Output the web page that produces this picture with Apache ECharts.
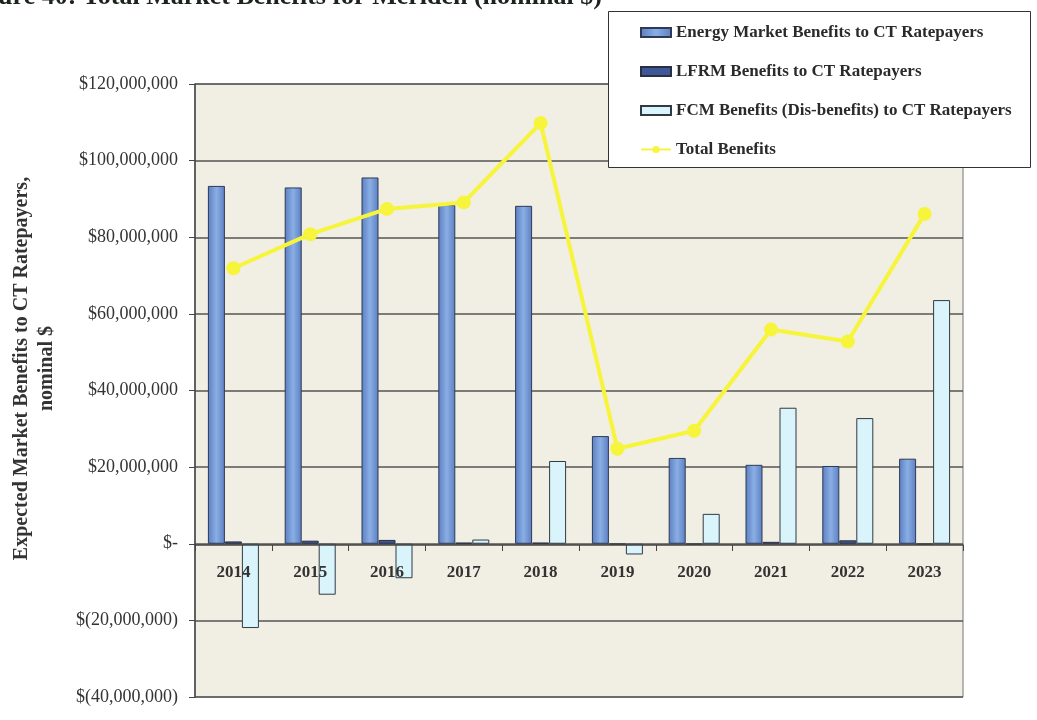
<!DOCTYPE html>
<html>
<head>
<meta charset="utf-8">
<script src="https://cdn.jsdelivr.net/npm/echarts@6/dist/echarts.min.js"></script>
<style>html,body{margin:0;padding:0;background:#fff;}#c{width:1037px;height:720px;}</style>
</head>
<body>
<div id="c"></div>
<script>
var years = ['2014','2015','2016','2017','2018','2019','2020','2021','2022','2023'];
var energyBenefits = [93.4, 93.0, 95.6, 88.4, 88.2, 28.1, 22.4, 20.6, 20.3, 22.2];
var lfrmBenefits = [0.6, 0.8, 1.0, 0.3, 0.3, -0.2, -0.2, 0.5, 0.9, -0.2];
var fcmBenefits = [-22.0, -13.3, -9.0, 1.1, 21.6, -2.8, 7.8, 35.5, 32.8, 63.6];
var totalBenefits = [71.9, 80.8, 87.4, 89.1, 109.8, 24.8, 29.5, 55.9, 52.8, 86.1];
var seriesNames = ['Energy Market Benefits to CT Ratepayers','LFRM Benefits to CT Ratepayers','FCM Benefits (Dis-benefits) to CT Ratepayers','Total Benefits'];
var titleText = 'Figure 40: Total Market Benefits for Meriden (nominal $)';
var yAxisTitle = 'Expected Market Benefits to CT Ratepayers,\nnominal $';

function toDollars(arr){ return arr.map(function(v){ return Math.round(v*1e6); }); }

function fmtMoney(v){
  if (v === 0) return '$-';
  var s = Math.abs(v).toString().replace(/\B(?=(\d{3})+(?!\d))/g, ',');
  return v < 0 ? '$(' + s + ')' : '$' + s;
}

var serif = '"Liberation Serif","DejaVu Serif",serif';
var chart = echarts.init(document.getElementById('c'));
chart.setOption({
  animation: false,
  backgroundColor: '#ffffff',
  graphic: [
    { type: 'text', left: -38, top: -16, z: 10,
      style: { text: titleText, font: 'bold 26px ' + serif, fill: '#1c231c' } },
    { type: 'rect', left: 608, top: 11, z: 5,
      shape: { width: 422, height: 156 },
      style: { fill: '#ffffff', stroke: '#333333', lineWidth: 1 } }
  ],
  legend: {
    orient: 'vertical', left: 635, top: 19, z: 20,
    itemGap: 22, itemWidth: 30, itemHeight: 9,
    textStyle: { fontFamily: serif, fontWeight: 'bold', fontSize: 17, color: '#2a2a2a' },
    data: [
      { name: seriesNames[0], icon: 'rect' },
      { name: seriesNames[1], icon: 'rect' },
      { name: seriesNames[2], icon: 'rect' },
      { name: seriesNames[3] }
    ]
  },
  grid: { left: 195, right: 74, top: 84, bottom: 23, show: true,
          containLabel: false, outerBoundsMode: 'none',
          backgroundColor: '#f1eee3', borderColor: '#777', borderWidth: 1 },
  xAxis: {
    type: 'category', data: years, position: 'bottom', offset: -152, z: 12,
    axisLine: { onZero: false, lineStyle: { color: '#444', width: 1.5 } },
    axisTick: { show: true, inside: false, length: 6, lineStyle: { color: '#444' } },
    axisLabel: { fontFamily: serif, fontWeight: 'bold', fontSize: 17, color: '#333', margin: 19 }
  },
  yAxis: {
    type: 'value', min: -40000000, max: 120000000, interval: 20000000,
    name: yAxisTitle, nameLocation: 'middle', nameGap: 136, nameRotate: 90,
    nameTextStyle: { fontFamily: serif, fontWeight: 'bold', fontSize: 20, color: '#333', lineHeight: 25, padding: [0, 0, 0, 44] },
    axisLine: { show: true, lineStyle: { color: '#444', width: 1.5 } },
    axisTick: { show: true, length: 6, lineStyle: { color: '#444' } },
    axisLabel: { fontFamily: serif, fontSize: 18, color: '#333', margin: 17, formatter: fmtMoney },
    splitLine: { show: true, lineStyle: { color: '#555', width: 1.5 } }
  },
  series: [
    { name: seriesNames[0], type: 'bar', data: toDollars(energyBenefits),
      barWidth: 17, barGap: '0%',
      itemStyle: {
        color: new echarts.graphic.LinearGradient(0,0,1,0,[
          {offset:0,color:'#5b7fc2'},{offset:0.5,color:'#8aaee4'},{offset:1,color:'#5b7fc2'}]),
        borderColor: '#2f3a55', borderWidth: 1 } },
    { name: seriesNames[1], type: 'bar', data: toDollars(lfrmBenefits),
      barWidth: 17, barGap: '0%',
      itemStyle: { color: '#3e5796', borderColor: '#2a2f45', borderWidth: 1 } },
    { name: seriesNames[2], type: 'bar', data: toDollars(fcmBenefits),
      barWidth: 17, barGap: '0%',
      itemStyle: { color: '#d9f4fb', borderColor: '#2f3a45', borderWidth: 1 } },
    { name: seriesNames[3], type: 'line', data: toDollars(totalBenefits), z: 10,
      symbol: 'circle', symbolSize: 14,
      lineStyle: { color: '#f7f43c', width: 4 },
      itemStyle: { color: '#f7f43c' } }
  ]
});
</script>
</body>
</html>
